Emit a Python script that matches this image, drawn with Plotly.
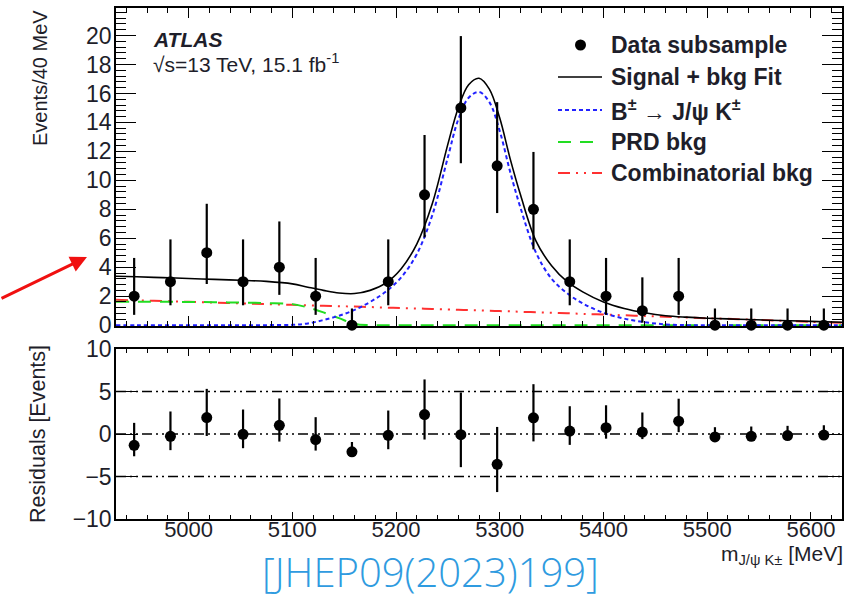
import plotly.graph_objects as go

# ---------------- data ----------------
bin_centers = [4947.5, 4982.5, 5017.5, 5052.5, 5087.5, 5122.5, 5157.5, 5192.5, 5227.5, 5262.5,
               5297.5, 5332.5, 5367.5, 5402.5, 5437.5, 5472.5, 5507.5, 5542.5, 5577.5, 5612.5]
counts = [2, 3, 5, 3, 4, 2, 0, 3, 9, 15, 11, 8, 3, 2, 1, 2, 0, 0, 0, 0]
err_up = [2.64, 2.92, 3.38, 2.92, 3.16, 2.64, 1.15, 2.92, 4.13, 4.96,
          4.40, 3.96, 2.92, 2.64, 2.30, 2.64, 1.15, 1.15, 1.15, 1.15]
err_dn = [1.29, 1.63, 2.16, 1.63, 1.91, 1.29, 0.0, 1.63, 2.94, 3.82,
          3.26, 2.77, 1.63, 1.29, 0.83, 1.29, 0.0, 0.0, 0.0, 0.0]
residuals = [-1.33, -0.27, 1.93, -0.04, 1.02, -0.66, -2.09, -0.16, 2.29, -0.08,
             -3.57, 1.90, 0.35, 0.74, 0.23, 1.51, -0.35, -0.27, -0.19, -0.12]

m_curve = [4930, 4950, 4975, 5000, 5025, 5050, 5075, 5100, 5115, 5130, 5145, 5160, 5175, 5190,
           5205, 5220, 5235, 5250, 5260, 5270, 5280, 5290, 5300, 5310, 5320, 5335, 5350, 5365,
           5380, 5400, 5420, 5440, 5460, 5480, 5500, 5530, 5560, 5600, 5630]
fit_total = [3.38, 3.34, 3.28, 3.22, 3.16, 3.10, 3.02, 2.85, 2.62, 2.40, 2.22, 2.18, 2.40, 2.90,
             3.90, 5.60, 8.40, 12.5, 15.0, 16.6, 17.05, 16.3, 14.3, 11.5, 9.0, 5.8, 4.1, 3.0,
             2.3, 1.6, 1.15, 0.85, 0.65, 0.55, 0.48, 0.41, 0.34, 0.26, 0.20]
signal = [0, 0, 0, 0, 0, 0, 0, 0.02, 0.12, 0.35, 0.65, 1.05, 1.6, 2.3,
          3.3, 4.9, 7.6, 11.6, 14.2, 15.7, 16.1, 15.4, 13.4, 10.6, 8.1, 5.0, 3.2, 2.2,
          1.5, 0.85, 0.45, 0.2, 0.05, 0, 0, 0, 0, 0, 0]
prd_bkg = [1.62, 1.62, 1.61, 1.60, 1.58, 1.56, 1.52, 1.45, 1.22, 0.88, 0.48, 0.08, 0, 0,
           0, 0, 0, 0, 0, 0, 0, 0, 0, 0, 0, 0, 0, 0,
           0, 0, 0, 0, 0, 0, 0, 0, 0, 0, 0]
comb_bkg = [1.75, 1.71, 1.66, 1.61, 1.56, 1.50, 1.45, 1.40, 1.37, 1.34, 1.31, 1.28, 1.25, 1.21,
            1.18, 1.15, 1.12, 1.08, 1.06, 1.04, 1.02, 0.99, 0.97, 0.95, 0.92, 0.89, 0.85, 0.82,
            0.78, 0.73, 0.68, 0.63, 0.58, 0.53, 0.48, 0.41, 0.33, 0.23, 0.16]

x_ticks = [5000, 5100, 5200, 5300, 5400, 5500, 5600]
y_ticks_top = [0, 2, 4, 6, 8, 10, 12, 14, 16, 18, 20]
y_ticks_res = [-10, -5, 0, 5, 10]
y_ticklabels_res = ["\u221210", "\u22125", "0", "5", "10"]

legend_labels = ["Data subsample", "Signal + bkg Fit", "B<sup>\u00b1</sup> \u2192 J/\u03c8 K<sup>\u00b1</sup>",
                 "PRD bkg", "Combinatorial bkg"]

# ---------------- styling ----------------
FONT = "Liberation Sans"
TXT = "#1e1e2a"
W, H = 848, 599
ML, MR, MT, MB = 116, 6, 8, 80
PW, PH = W - ML - MR, H - MT - MB

def px_x(px):
    return (px - ML) / PW

def px_y(py):
    return (H - MB - py) / PH

BLUE_DASH = "4px,3px"
GREEN_DASH = "13px,9px"
RED_DASH = "12px,6px,2px,6px,2px,6px"
RES_DASH = "10px,4px,2px,4px,2px,4px"

fig = go.Figure()

fig.add_trace(go.Scatter(x=m_curve, y=comb_bkg, mode="lines", line=dict(color="#ff3030", width=2, dash=RED_DASH, shape="spline"),
                         xaxis="x", yaxis="y", name="Combinatorial bkg", cliponaxis=False))
fig.add_trace(go.Scatter(x=m_curve, y=prd_bkg, mode="lines", line=dict(color="#22dd22", width=2, dash=GREEN_DASH, shape="spline"),
                         xaxis="x", yaxis="y", name="PRD bkg", cliponaxis=False))
fig.add_trace(go.Scatter(x=m_curve, y=signal, mode="lines", line=dict(color="#2222ff", width=2, dash=BLUE_DASH, shape="spline"),
                         xaxis="x", yaxis="y", name="B->J/psi K", cliponaxis=False))
fig.add_trace(go.Scatter(x=m_curve, y=fit_total, mode="lines", line=dict(color="black", width=1.6, shape="spline"),
                         xaxis="x", yaxis="y", name="Signal + bkg Fit"))
fig.add_trace(go.Scatter(x=bin_centers, y=counts, mode="markers",
                         marker=dict(color="black", size=11),
                         error_y=dict(type="data", array=err_up, arrayminus=err_dn, symmetric=False,
                                      thickness=2.2, width=0, color="black"),
                         xaxis="x", yaxis="y", name="Data subsample", cliponaxis=False))
fig.add_trace(go.Scatter(x=bin_centers, y=residuals, mode="markers",
                         marker=dict(color="black", size=11),
                         error_y=dict(type="data", array=err_up, arrayminus=err_dn, symmetric=False,
                                      thickness=2.2, width=0, color="black"),
                         xaxis="x2", yaxis="y2", name="Residuals", cliponaxis=False))

shapes = []
for yv in [5, 0, -5]:
    shapes.append(dict(type="line", xref="x2", yref="y2", x0=4930, x1=5630, y0=yv, y1=yv,
                       line=dict(color="black", width=1.4, dash=RES_DASH), layer="below"))

# manual legend
leg_y = [45, 77, 110, 142, 173]
leg_styles = [None,
              dict(color="black", width=1.6),
              dict(color="#2222ff", width=2, dash=BLUE_DASH),
              dict(color="#22dd22", width=2, dash=GREEN_DASH),
              dict(color="#ff3030", width=2, dash=RED_DASH)]
annotations = []
for i, (lab, st) in enumerate(zip(legend_labels, leg_styles)):
    yy = px_y(leg_y[i])
    if st is None:
        shapes.append(dict(type="circle", xref="paper", yref="paper",
                           x0=px_x(575), x1=px_x(586), y0=px_y(leg_y[i] + 5.5), y1=px_y(leg_y[i] - 5.5),
                           fillcolor="black", line=dict(width=0)))
    else:
        shapes.append(dict(type="line", xref="paper", yref="paper", x0=px_x(558), x1=px_x(602),
                           y0=yy, y1=yy, line=st))
    annotations.append(dict(text="<b>%s</b>" % lab, xref="paper", yref="paper", x=px_x(609), y=yy,
                            xanchor="left", yanchor="middle", showarrow=False,
                            font=dict(family=FONT, size=23, color=TXT)))

annotations += [
    dict(text="<b><i>ATLAS</i></b>", xref="paper", yref="paper", x=px_x(151), y=px_y(39),
         xanchor="left", yanchor="middle", showarrow=False, font=dict(family=FONT, size=21, color=TXT)),
    dict(text="\u221as=13 TeV, 15.1 fb<sup>-1</sup>", xref="paper", yref="paper", x=px_x(151), y=px_y(63),
         xanchor="left", yanchor="middle", showarrow=False, font=dict(family=FONT, size=21, color=TXT)),
    dict(text="Events/40 MeV", xref="paper", yref="paper", x=px_x(40), y=px_y(8), textangle=-90,
         xanchor="center", yanchor="top", showarrow=False, font=dict(family=FONT, size=20, color=TXT)),
    dict(text="Residuals [Events]", xref="paper", yref="paper", x=px_x(38), y=px_y(434), textangle=-90,
         xanchor="center", yanchor="middle", showarrow=False, font=dict(family=FONT, size=21.5, color=TXT)),
    dict(text="m<sub>J/\u03c8 K\u00b1</sub> [MeV]", xref="paper", yref="paper", x=px_x(845), y=px_y(555),
         xanchor="right", yanchor="middle", showarrow=False, font=dict(family=FONT, size=21, color=TXT)),
    dict(text="[JHEP09(2023)199]", xref="paper", yref="paper", x=px_x(430), y=px_y(571),
         xanchor="center", yanchor="middle", showarrow=False,
         font=dict(family="Open Sans", size=40, color="#2f9be0", weight=300)),
    dict(text="", xref="paper", yref="paper", x=px_x(87), y=px_y(257), ax=-90, ay=42,
         showarrow=True, arrowhead=2, arrowsize=1.1, arrowwidth=3, arrowcolor="#f01010"),
]

axis_common = dict(showgrid=False, zeroline=False, showline=True, linecolor="black", linewidth=1.5,
                   mirror="ticks", ticks="inside", tickcolor="black", tickwidth=1.3, automargin=False,
                   tickfont=dict(family=FONT, size=23, color=TXT))

fig.update_layout(
    width=W, height=H, margin=dict(l=ML, r=MR, t=MT, b=MB, autoexpand=False),
    paper_bgcolor="white", plot_bgcolor="white", showlegend=False,
    xaxis=dict(axis_common, domain=[0, 1], anchor="y", range=[4930, 5630], tickvals=x_ticks,
               showticklabels=False, ticklen=10,
               minor=dict(dtick=20, tick0=5000, ticklen=5, ticks="inside", tickcolor="black", showgrid=False)),
    yaxis=dict(axis_common, domain=[px_y(326), 1], anchor="x", range=[-0.06, 21.9], tickvals=y_ticks_top,
               ticklen=20, ticklabelstandoff=-2,
               minor=dict(dtick=0.4, tick0=0, ticklen=10, ticks="inside", tickcolor="black", showgrid=False)),
    xaxis2=dict(axis_common, domain=[0, 1], anchor="y2", range=[4930, 5630], tickvals=x_ticks,
                ticklen=7, ticklabelstandoff=-10, tickfont=dict(family=FONT, size=22, color=TXT),
                minor=dict(dtick=20, tick0=5000, ticklen=4, ticks="inside", tickcolor="black", showgrid=False)),
    yaxis2=dict(axis_common, domain=[0, px_y(349)], anchor="x2", range=[-10, 10], tickvals=y_ticks_res,
                ticktext=y_ticklabels_res, ticklen=22, ticklabelstandoff=-2),
    shapes=shapes, annotations=annotations,
)

fig.write_html("out.html")
